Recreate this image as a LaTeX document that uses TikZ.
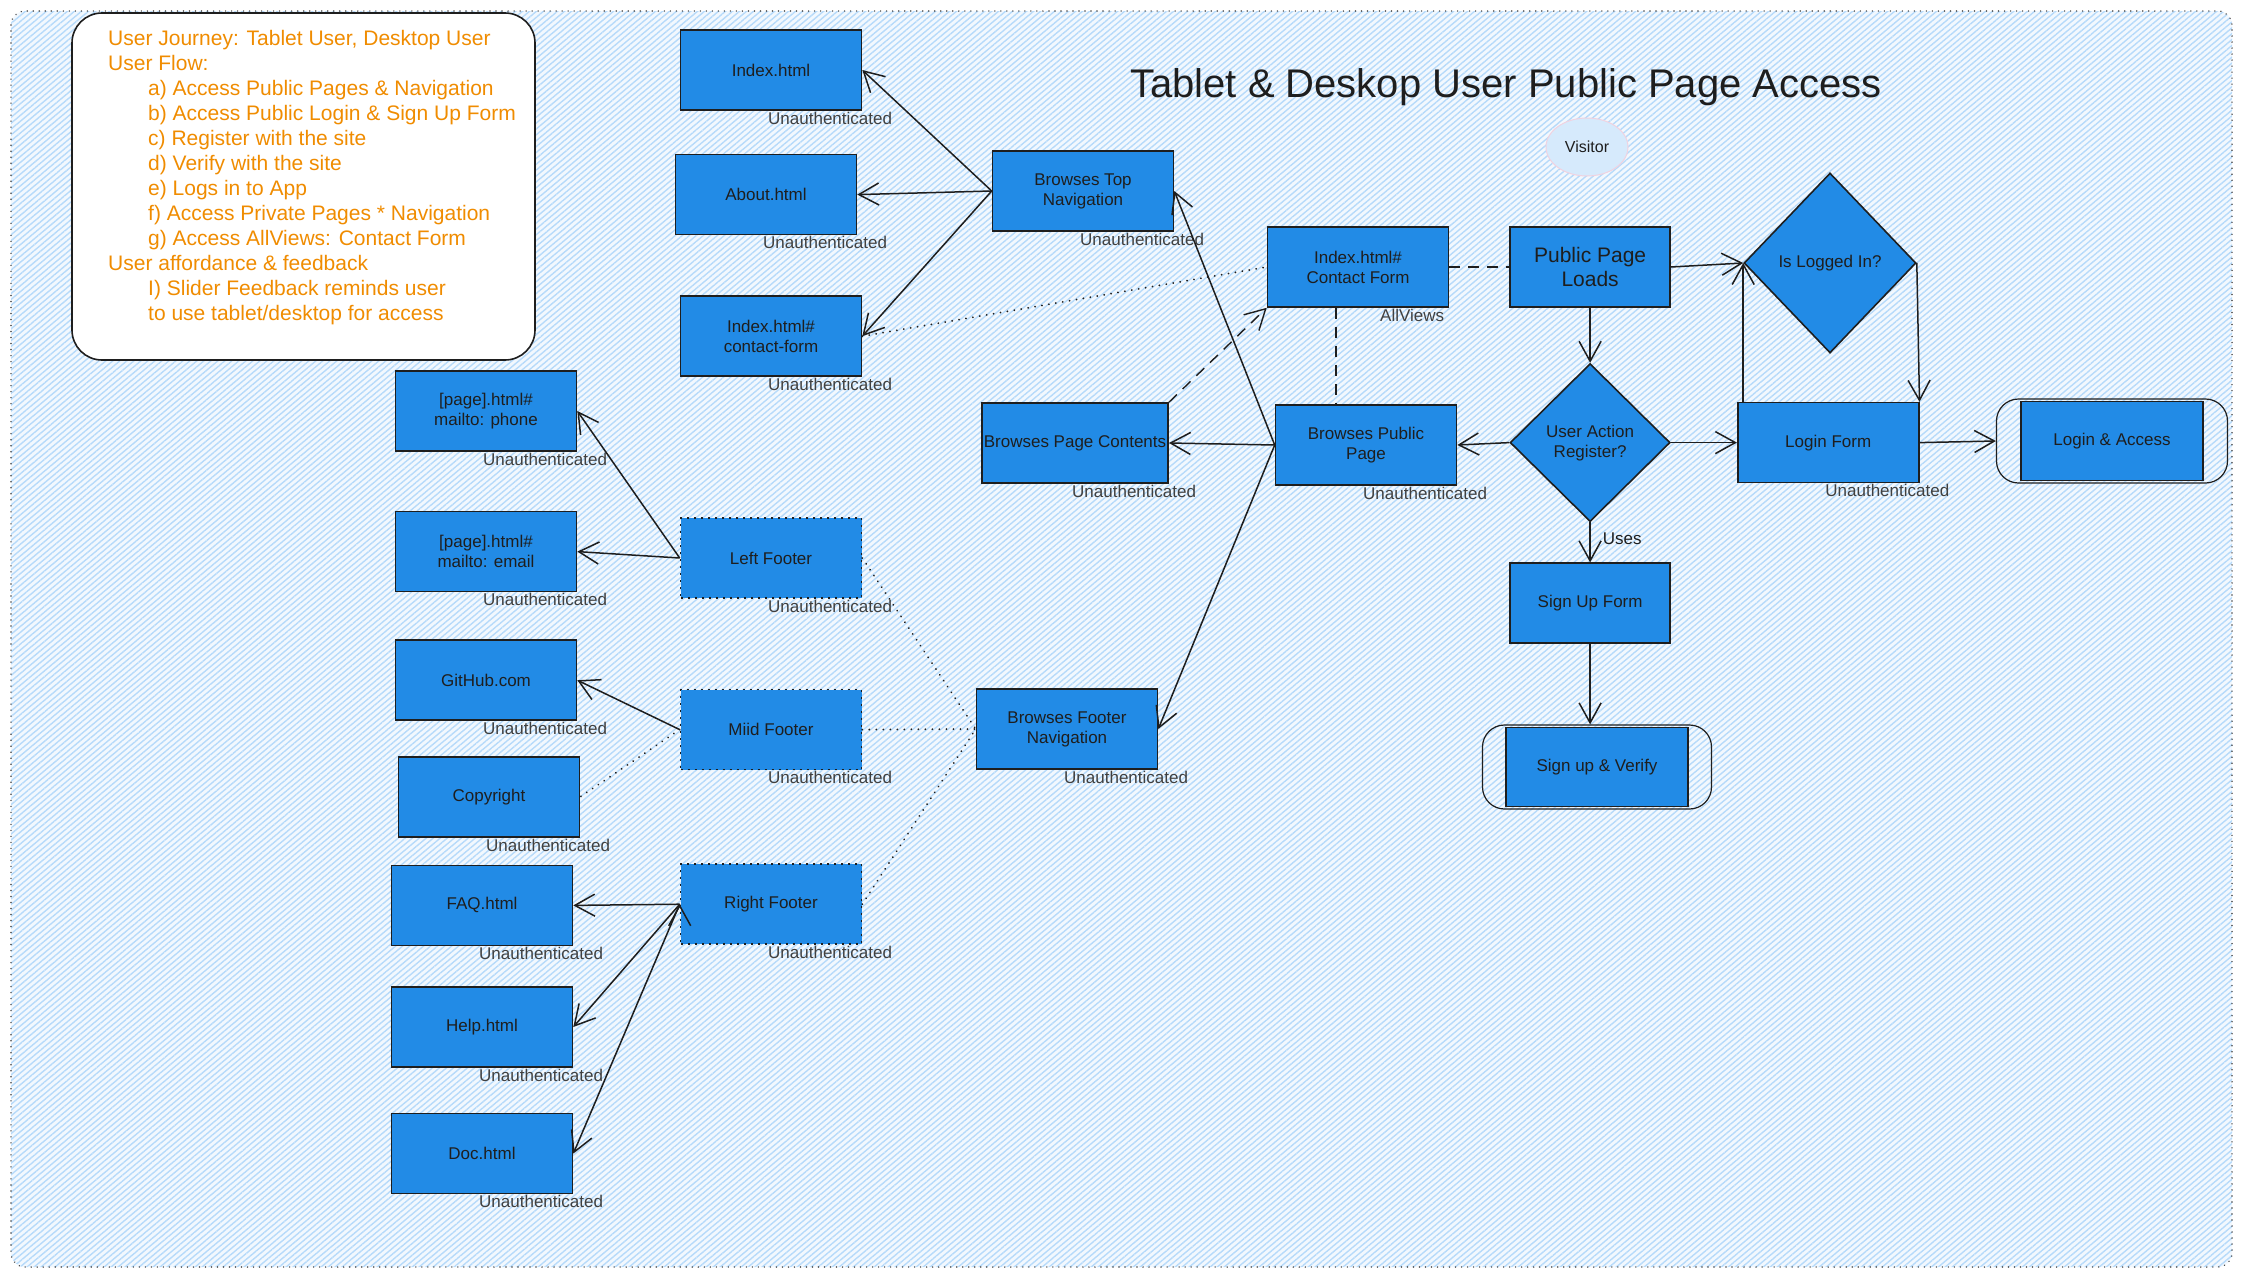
\documentclass[tikz,border=0pt]{standalone}
\usepackage{fontspec}
\setmainfont{Liberation Sans}
\usepackage{xcolor}
\usepackage{tikz}
\usetikzlibrary{positioning}
\usetikzlibrary{shapes.geometric}
\usetikzlibrary{arrows.meta}
\usetikzlibrary{patterns.meta}

\definecolor{ink}{HTML}{1E1E1E}
\definecolor{boxblue}{HTML}{228BE6}
\definecolor{noteorange}{HTML}{F08C00}
\definecolor{hatchblue}{HTML}{B6DAFA}
\definecolor{bgblue}{HTML}{F2F8FE}
\definecolor{visitorfill}{HTML}{D6EAFC}
\definecolor{visitorline}{HTML}{F0D2E0}

\tikzset{
	page/.style={draw=ink, fill=boxblue, line width=1.6pt,
		minimum width=181pt, minimum height=80pt, inner sep=2pt,
		align=center, text=ink, font=\fontsize{17}{20}\selectfont},
	footer/.style={page, dash pattern=on 2pt off 5pt},
	decision/.style={diamond, draw=ink, fill=boxblue, line width=1.6pt,
		inner sep=0pt, aspect=1, align=center, text=ink,
		font=\fontsize{17}{20}\selectfont},
	holder/.style={draw=ink, line width=1.2pt, rounded corners=22pt},
	tag/.style={anchor=north west, xshift=-4pt, inner sep=1pt,
		text=ink!85, font=\fontsize{17}{19}\selectfont},
	unauth/.style={label={[tag]south:Unauthenticated}},
	link/.style={draw=ink, line width=1.5pt,
		-{Straight Barb[length=20pt,width=22pt]}},
	weak/.style={draw=ink, line width=2pt, line cap=round,
		dash pattern=on 0.01pt off 7pt},
	hint/.style={draw=ink, line width=1.4pt, dash pattern=on 11pt off 8pt},
	frame/.style={draw=ink!80, line width=1.6pt, line cap=round,
		dash pattern=on 0.01pt off 6pt, rounded corners=14pt},
	notebox/.style={draw=ink, fill=white, line width=1.6pt, rounded corners=30pt},
	notetext/.style={anchor=north west, inner sep=0pt, align=left,
		text=noteorange, font=\fontsize{21}{25}\selectfont}
}

\begin{document}
\begin{tikzpicture}[x=1pt, y=-1pt]
		\useasboundingbox (0,0) rectangle (2244,1278);
		% canvas
		\path [preaction={fill=bgblue},
				pattern={Lines[angle=40,distance=4.5pt,line width=1.4pt]},
				pattern color=hatchblue,
				rounded corners=14pt] (11,11) rectangle (2232,1267);
		\draw [frame] (11,11) rectangle (2232,1267);

		% user journey note
		\draw [notebox] (72,13) rectangle (535,360);
		\node [notetext] (journey) at (108,30) {User Journey: Tablet User, Desktop User\\
			User Flow:\\
			\hspace*{40pt}a) Access Public Pages \& Navigation\\
			\hspace*{40pt}b) Access Public Login \& Sign Up Form\\
			\hspace*{40pt}c) Register with the site\\
			\hspace*{40pt}d) Verify with the site\\
			\hspace*{40pt}e) Logs in to App\\
			\hspace*{40pt}f) Access Private Pages * Navigation\\
			\hspace*{40pt}g) Access AllViews: Contact Form\\
			User affordance \& feedback\\
			\hspace*{40pt}I) Slider Feedback reminds user\\
			\hspace*{40pt}to use tablet/desktop for access};

		\node [font=\fontsize{40}{44}\selectfont, text=ink] (title) at (1506,87) {Tablet \& Deskop User Public Page Access};
		\node [ellipse, draw=visitorline, fill=visitorfill, line width=1pt,
				minimum width=82pt, minimum height=58pt,
				font=\fontsize{16}{18}\selectfont, text=ink] (visitor) at (1587,147) {Visitor};

		% top navigation
		\node [page, unauth] (idx) at (771,70) {Index.html};
		\node [page, unauth, below=43pt of idx, xshift=-5pt] (about) {About.html};
		\node [page, unauth, below=60pt of about, xshift=5pt] (cform) {Index.html\#\\contact-form};
		\node [page, unauth] (topnav) at (1083,191) {Browses Top\\Navigation};

		% footer pages
		\node [page, unauth] (phone) at (486,411) {[page].html\#\\mailto: phone};
		\node [page, unauth, below=59pt of phone] (email) {[page].html\#\\mailto: email};
		\node [page, unauth, below=47pt of email] (github) {GitHub.com};
		\node [page, unauth, below=35pt of github, xshift=3pt] (copyright) {Copyright};
		\node [page, unauth, below=27pt of copyright, xshift=-7pt] (faq) {FAQ.html};
		\node [page, unauth, below=40pt of faq] (help) {Help.html};
		\node [page, unauth, below=45pt of help] (doc) {Doc.html};
		\node [footer, unauth] (lfoot) at (771,558) {Left Footer};
		\node [footer, unauth, below=90pt of lfoot] (mfoot) {Miid Footer};
		\node [footer, unauth, below=93pt of mfoot] (rfoot) {Right Footer};
		\node [page, unauth] (footnav) at (1067,729) {Browses Footer\\Navigation};

		% public page flow
		\node [page, unauth] (pagecont) at (1075,443) {Browses Page Contents};
		\node [page, unauth] (pubpage) at (1366,445) {Browses Public\\Page};
		\node [page, label={[tag, anchor=north east, xshift=0pt]south east:AllViews}] (contact) at (1358,267) {Index.html\#\\Contact Form};
		\node [page, minimum width=160pt, right=60pt of contact,
				font=\fontsize{21}{24}\selectfont] (loads) {Public Page\\Loads};
		\node [decision, minimum width=172pt, minimum height=180pt] (logged) at (1830,263) {Is Logged In?};
		\node [decision, minimum width=160pt, minimum height=158pt, below=55pt of loads] (action) {User Action\\Register?};
		\node [page, unauth, right=66pt of action] (loginform) {Login Form};
		\node [page, minimum width=160pt, below=40pt of action] (signup) {Sign Up Form};
		\node [holder, minimum width=231pt, minimum height=84pt] (loginbox) at (2112,441) {};
		\node [page, minimum width=182pt, minimum height=79pt] (login) at (loginbox) {Login \& Access};
		\node [holder, minimum width=229pt, minimum height=84pt] (verifybox) at (1597,767) {};
		\node [page, minimum width=182pt, minimum height=79pt] (verify) at (verifybox) {Sign up \& Verify};
		\coordinate (drop) at ([xshift=-22pt]contact.south);

		\path [link]
			(topnav.west) edge (idx.east)
			(topnav.west) edge (about.east)
			(topnav.west) edge (cform.east)
			(pubpage.west) edge (topnav.east)
			(pubpage.west) edge (pagecont.east)
			(pubpage.west) edge (footnav.east)
			(action.west) edge (pubpage.east)
			(loads.east) edge (logged.west)
			(loads.south) edge (action.north)
			(action.east) edge (loginform.west)
			(loginform.north west -| logged.west) edge (logged.west)
			(logged.east) edge (loginform.north east)
			(loginform.east) edge (loginbox.west)
			(action.south) edge node [pos=0.42, right=12pt, inner sep=0pt, text=ink,
				font=\fontsize{17}{19}\selectfont] {Uses} (signup.north)
			(signup.south) edge (signup.south |- verifybox.north)
			(lfoot.west) edge (phone.east)
			(lfoot.west) edge (email.east)
			(mfoot.west) edge (github.east)
			(rfoot.west) edge (faq.east)
			(rfoot.west) edge (help.east)
			(rfoot.west) edge (doc.east);
		\path [weak]
			(cform.east) edge (contact.west)
			(mfoot.west) edge (copyright.east)
			(lfoot.east) edge (footnav.west)
			(mfoot.east) edge (footnav.west)
			(rfoot.east) edge (footnav.west);
		\path [hint]
			(contact.east) edge (loads.west)
			(drop) edge (drop |- pubpage.north);
		\draw [hint, -{Straight Barb[length=20pt,width=22pt]}] (pagecont.north east) -- (contact.south west);
\end{tikzpicture}
\end{document}
